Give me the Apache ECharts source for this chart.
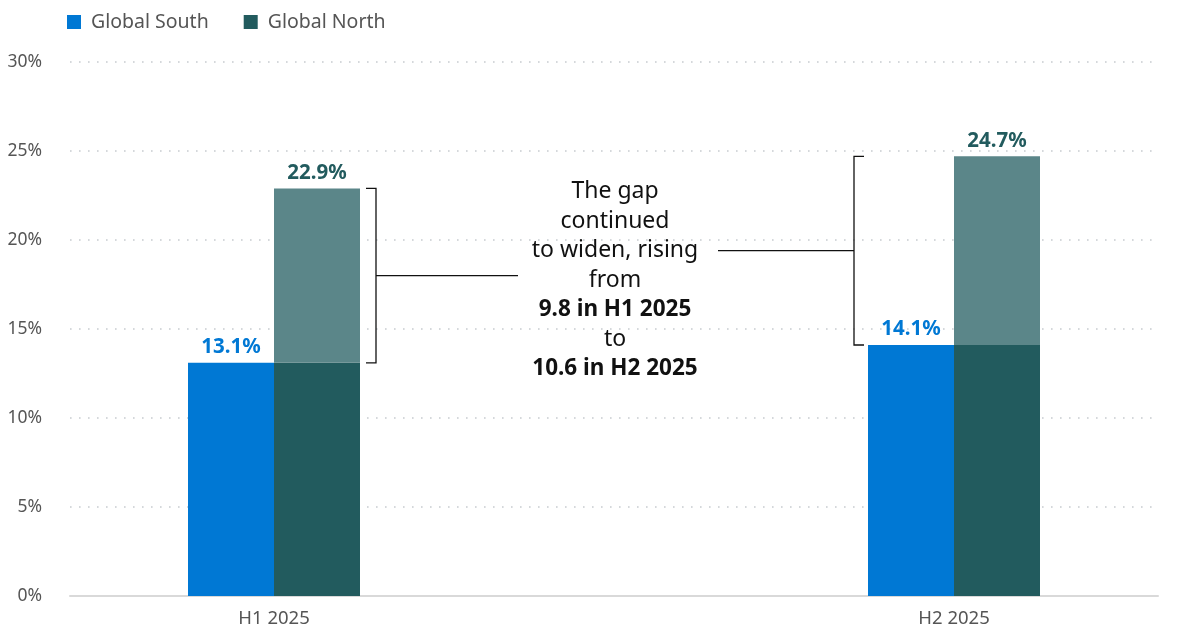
<!DOCTYPE html>
<html>
<head>
<meta charset="utf-8">
<script src="https://cdn.jsdelivr.net/npm/echarts@6/dist/echarts.min.js"></script>
<style>html,body{margin:0;padding:0;background:#fff}#c{width:1200px;height:642px}</style>
</head>
<body>
<div id="c"></div>
<script>
var categories = ['H1 2025', 'H2 2025'];
var southValues = [13.1, 14.1];
var northValues = [22.9, 24.7];
var yTicks = [0, 5, 10, 15, 20, 25, 30];
var annotationLines = [
  {text: 'The gap', bold: false},
  {text: 'continued', bold: false},
  {text: 'to widen, rising', bold: false},
  {text: 'from', bold: false},
  {text: '9.8 in H1 2025', bold: true},
  {text: 'to', bold: false},
  {text: '10.6 in H2 2025', bold: true}
];

var FONT = '"Noto Sans", "Open Sans", sans-serif';
var SOUTH = '#0078D4', NORTH = '#225B5E', NORTH_LIGHT = '#5B8689';

// layout: categories occupy slots 1 and 6 of 8 equal bands
var SLOTS = 8, slotIdx = [1, 6];
var axisData = [];
for (var i = 0; i < SLOTS; i++) axisData.push('');
var slotSouth = axisData.map(function(){return '-';});
var slotNorthBase = axisData.map(function(){return '-';});
var slotGap = axisData.map(function(){return '-';});
categories.forEach(function(c, k){
  axisData[slotIdx[k]] = c;
  slotSouth[slotIdx[k]] = southValues[k];
  slotNorthBase[slotIdx[k]] = Math.min(southValues[k], northValues[k]);
  slotGap[slotIdx[k]] = +(northValues[k] - southValues[k]).toFixed(1);
});
function catOfSlot(i){ return slotIdx.indexOf(i); }

var BW = 86;
var chart = echarts.init(document.getElementById('c'));
chart.setOption({
  animation: false,
  textStyle: {fontFamily: FONT},
  legend: {
    data: ['Global South', 'Global North'],
    left: 62, top: 7,
    icon: 'rect', itemWidth: 14, itemHeight: 14, itemGap: 35,
    textStyle: {fontSize: 19.5, color: '#555', fontFamily: FONT, padding: [0, 0, 0, 5]}
  },
  grid: {left: 70, right: 42, top: 62, bottom: 46, containLabel: false},
  xAxis: {
    type: 'category',
    data: axisData,
    axisTick: {show: false},
    axisLine: {lineStyle: {color: '#d9d9d9', width: 2}},
    axisLabel: {interval: 0, color: '#555', fontSize: 18.5, margin: 13, fontFamily: FONT}
  },
  yAxis: {
    type: 'value', min: yTicks[0], max: yTicks[yTicks.length-1], interval: yTicks[1]-yTicks[0],
    axisLine: {show: false}, axisTick: {show: false},
    axisLabel: {formatter: '{value}%', color: '#555', fontSize: 17.5, margin: 28, fontFamily: FONT},
    splitLine: {lineStyle: {color: '#c8ccd0', width: 1.6, type: [1.6, 7.4]}}
  },
  series: [
    {
      name: 'Global South', type: 'bar', data: slotSouth, barWidth: BW, barGap: '0%',
      itemStyle: {color: SOUTH},
      label: {show: true, position: 'top', distance: 5, color: SOUTH, fontWeight: 'bold', fontSize: 20.5, fontFamily: FONT,
        formatter: function(p){ return southValues[catOfSlot(p.dataIndex)].toFixed(1) + '%'; }}
    },
    {
      name: 'Global North', type: 'bar', stack: 'north', data: slotNorthBase, barWidth: BW,
      itemStyle: {color: NORTH}
    },
    {
      name: 'North gap', type: 'bar', stack: 'north', data: slotGap, barWidth: BW,
      itemStyle: {color: NORTH_LIGHT},
      label: {show: true, position: 'top', distance: 5, color: NORTH, fontWeight: 'bold', fontSize: 20.5, fontFamily: FONT,
        formatter: function(p){ return northValues[catOfSlot(p.dataIndex)].toFixed(1) + '%'; }}
    }
  ]
});

// Brackets and annotation text positioned via the chart's own scales
function px(slot, v){ return chart.convertToPixel({xAxisIndex: 0, yAxisIndex: 0}, [slot, v]); }
var g = [];
var ls = {stroke: '#111', lineWidth: 1.3};
// left bracket (H1)
var aTop = px(slotIdx[0], northValues[0]), aBot = px(slotIdx[0], southValues[0]);
var lx = aTop[0] + BW + 16;
g.push({type:'polyline', shape:{points:[[lx-10, aTop[1]],[lx, aTop[1]],[lx, aBot[1]],[lx-10, aBot[1]]]}, style: ls});
var lmid = (aTop[1] + aBot[1]) / 2;
// right bracket (H2)
var bTop = px(slotIdx[1], northValues[1]), bBot = px(slotIdx[1], southValues[1]);
var rx = bTop[0] - BW - 14;
g.push({type:'polyline', shape:{points:[[rx+10, bTop[1]],[rx, bTop[1]],[rx, bBot[1]],[rx+10, bBot[1]]]}, style: ls});
var rmid = (bTop[1] + bBot[1]) / 2;
var cx = (lx + rx) / 2;
g.push({type:'line', shape:{x1: lx, y1: lmid, x2: cx - 97, y2: lmid}, style: ls});
g.push({type:'line', shape:{x1: cx + 103, y1: rmid, x2: rx, y2: rmid}, style: ls});
var rich = annotationLines.map(function(l){ return (l.bold ? '{b|' : '{n|') + l.text + '}'; }).join('\n');
g.push({
  type: 'text', x: cx, y: 177,
  style: {
    text: rich, align: 'center', verticalAlign: 'top', fill: '#111',
    rich: {
      n: {fontSize: 23, fontFamily: FONT, lineHeight: 29.5, fill: '#111', align: 'center'},
      b: {fontSize: 22.5, fontFamily: FONT, fontWeight: 'bold', lineHeight: 29.5, fill: '#111', align: 'center'}
    }
  }
});
chart.setOption({graphic: {elements: g}});
</script>
</body>
</html>
